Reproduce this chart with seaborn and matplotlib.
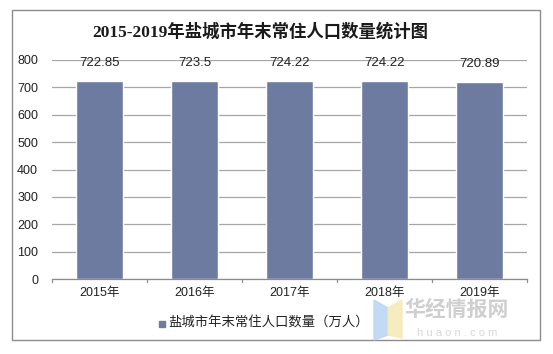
import matplotlib
matplotlib.use("Agg")
import matplotlib.pyplot as plt
import seaborn as sns
import pandas as pd
from matplotlib.patches import Rectangle, Polygon

years = ["2015年", "2016年", "2017年", "2018年", "2019年"]
population = [722.85, 723.5, 724.22, 724.22, 720.89]
value_labels = ["722.85", "723.5", "724.22", "724.22", "720.89"]
yticks = [0, 100, 200, 300, 400, 500, 600, 700, 800]

sns.set_style("white")
plt.rcParams['font.family'] = ['Liberation Sans', 'Noto Sans CJK SC', 'DejaVu Sans']

bar_color = "#6e7ba1"
df = pd.DataFrame({"year": years, "pop": population})

fig = plt.figure(figsize=(5.53, 3.54), dpi=100)
# outer frame
fig.patches.append(Rectangle((12 / 553, 1 - 340 / 354), 528 / 553, 330 / 354,
                             transform=fig.transFigure, fill=False,
                             edgecolor="#8c8c8c", linewidth=1.0))

ax = fig.add_axes([52 / 553, 1 - 279 / 354, 475 / 553, 219 / 354])
sns.barplot(data=df, x="year", y="pop", color=bar_color, width=0.5,
            saturation=1, ax=ax)

ax.set_ylim(0, 800)
ax.set_xlim(-0.5, 4.5)
ax.set_yticks(yticks)
ax.set_yticklabels([str(t) for t in yticks], fontsize=9, color="#222222")
ax.tick_params(axis="y", length=0, pad=10)
ax.tick_params(axis="x", length=0, pad=6, labelsize=9, labelcolor="#222222")
ax.set_xlabel("")
ax.set_ylabel("")
ax.yaxis.grid(True, color="#a6a6a6", linewidth=0.9)
ax.set_axisbelow(True)
for s in ["top", "right", "left"]:
    ax.spines[s].set_visible(False)
ax.spines["bottom"].set_color("#8c8c8c")
ax.spines["bottom"].set_linewidth(0.9)
# category boundary ticks on x axis
for b in [-0.5, 0.5, 1.5, 2.5, 3.5, 4.5]:
    ax.plot([b, b], [0, -10], color="#8c8c8c", linewidth=0.9, clip_on=False)

for i, (v, lab) in enumerate(zip(population, value_labels)):
    ax.annotate(lab, (i, v), xytext=(0, 13), textcoords="offset points",
                ha="center", va="center", fontsize=9.5, color="#222222")

fig.text(0.47, 1 - 32 / 354, "2015-2019年盐城市年末常住人口数量统计图",
         ha="center", va="center", fontsize=12.5, fontweight="bold",
         color="#1a1a1a", family=['Liberation Serif', 'Noto Sans CJK SC'])

# legend
fig.patches.append(Rectangle((159 / 553, 1 - 327 / 354), 6 / 553, 6 / 354,
                             transform=fig.transFigure, color=bar_color))
fig.text(168 / 553, 1 - 323 / 354, "盐城市年末常住人口数量（万人）",
         ha="left", va="center", fontsize=9.6, color="#222222")

# watermark
fig.patches.append(Polygon([(374 / 553, 1 - 300 / 354), (388 / 553, 1 - 308 / 354),
                            (388 / 553, 1 - 335 / 354), (374 / 553, 1 - 340 / 354)],
                           closed=True, transform=fig.transFigure,
                           color="#bcd6f2", alpha=0.9))
fig.patches.append(Polygon([(388 / 553, 1 - 308 / 354), (402 / 553, 1 - 300 / 354),
                            (402 / 553, 1 - 338 / 354), (388 / 553, 1 - 335 / 354)],
                           closed=True, transform=fig.transFigure,
                           color="#f7eab8", alpha=0.9))
fig.text(457 / 553, 1 - 310 / 354, "华经情报网", ha="center", va="center",
         fontsize=15, fontweight="bold", color="#cfcfcf")
fig.text(457 / 553, 1 - 333 / 354, "h u a o n . c o m", ha="center", va="center",
         fontsize=8, color="#d8d8d8")

fig.savefig("out.png", dpi=100)
